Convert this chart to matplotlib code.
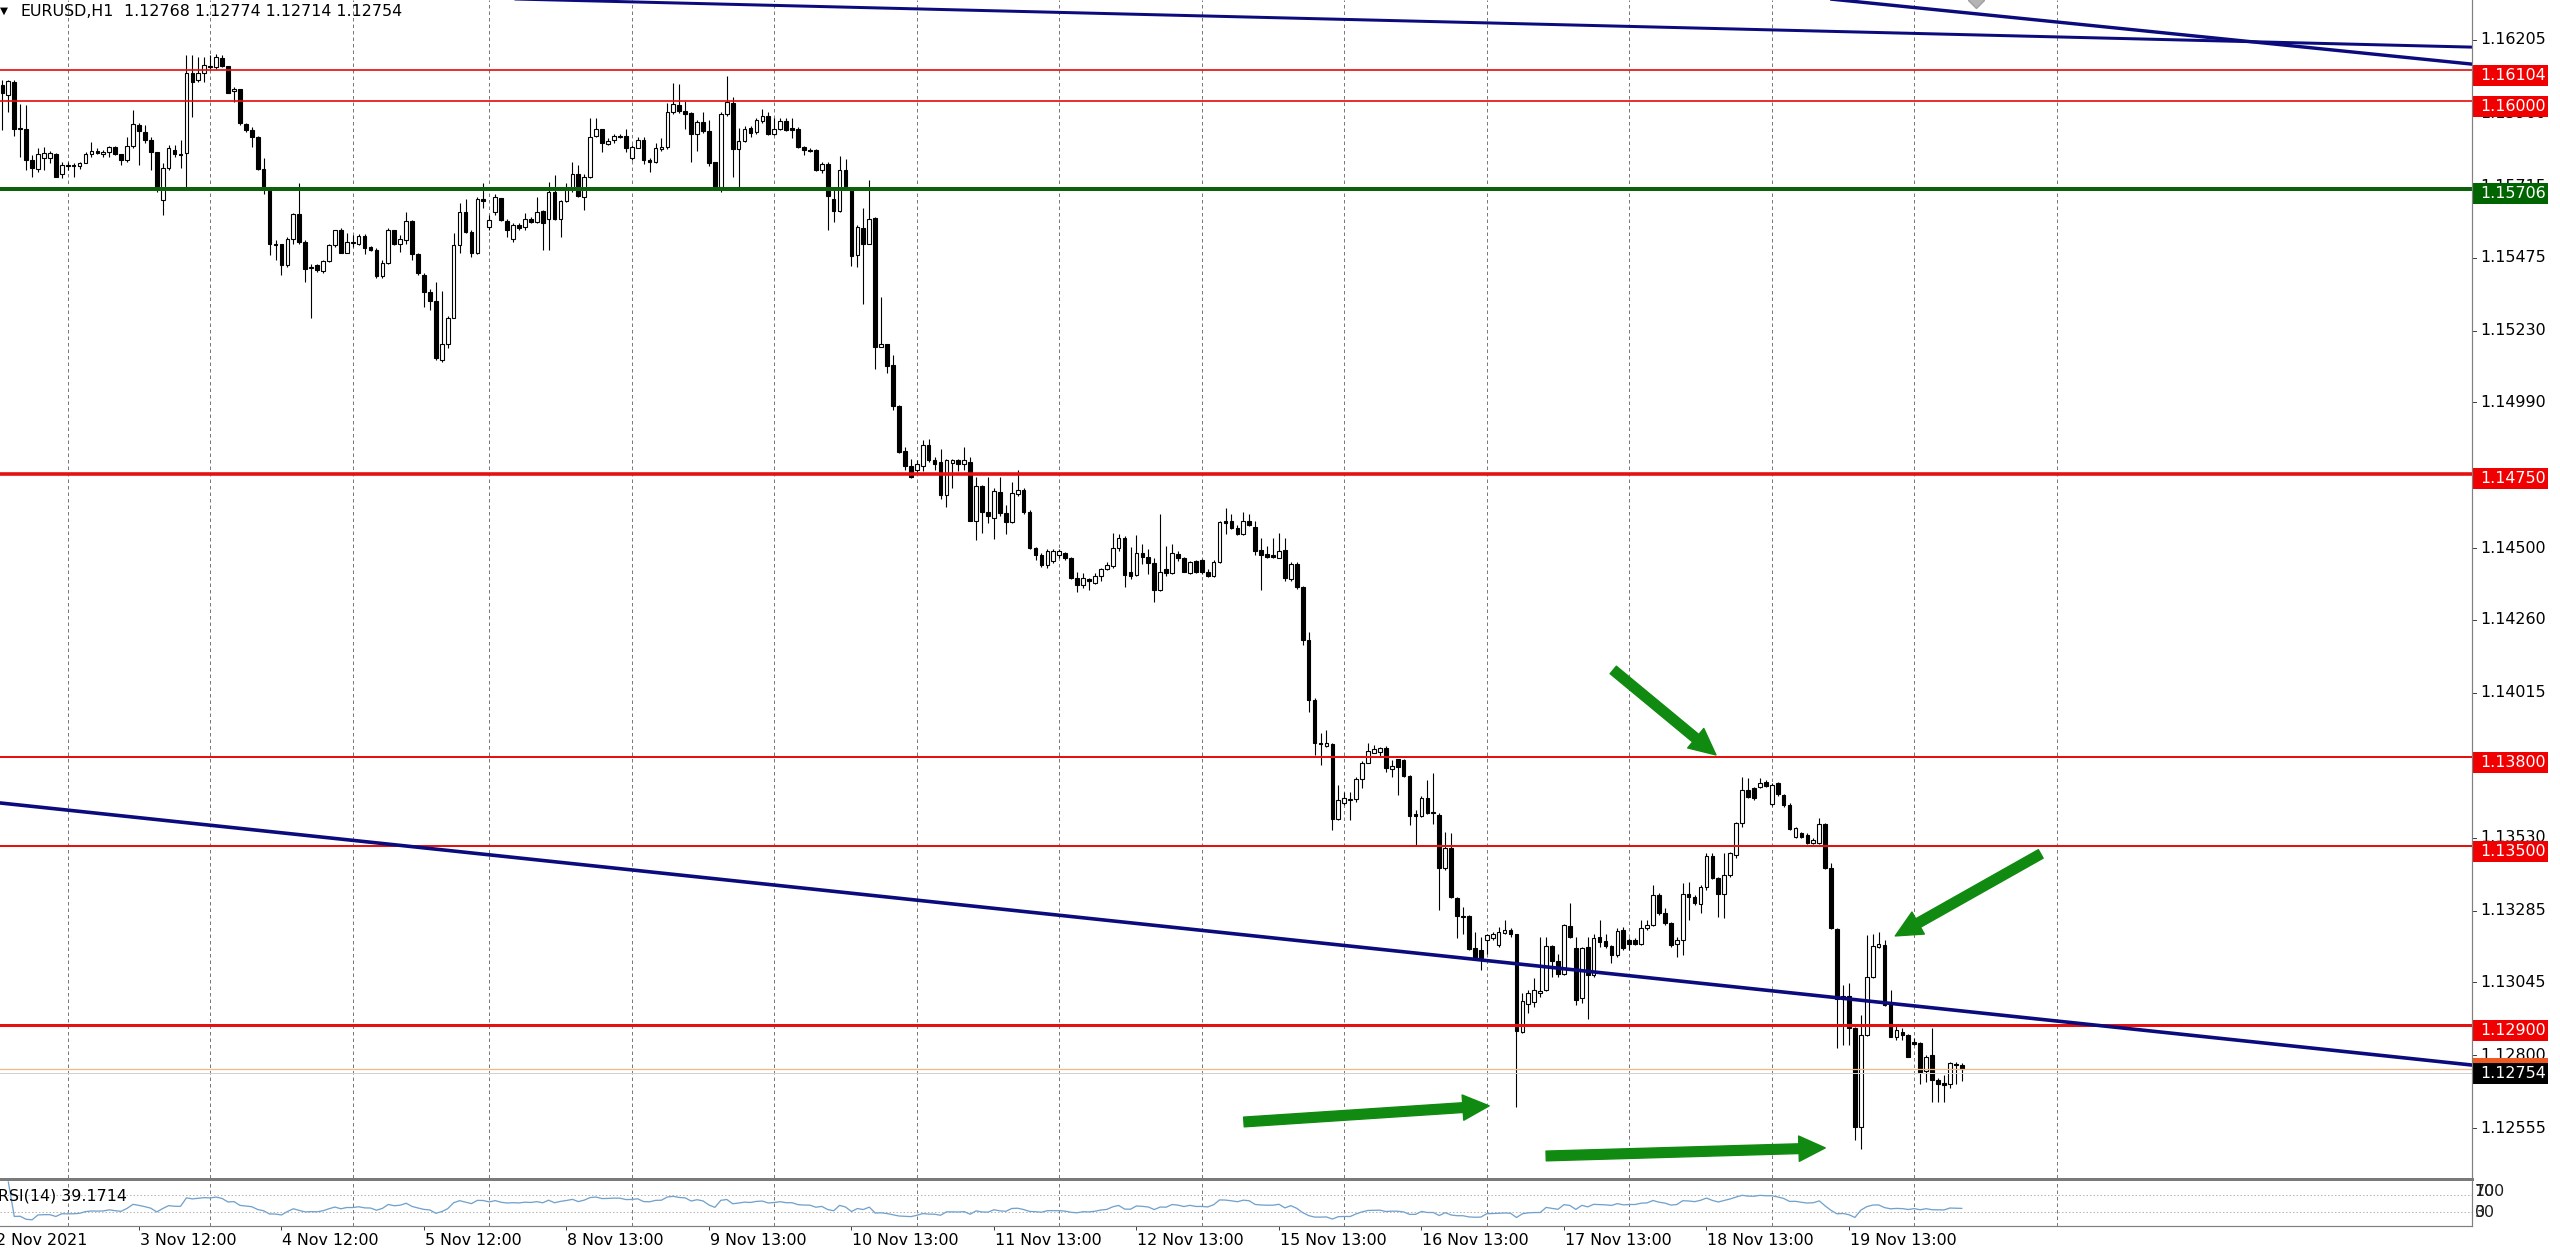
import numpy as np
import matplotlib
matplotlib.use("Agg")
import matplotlib.pyplot as plt
from matplotlib.patches import Rectangle
from matplotlib.lines import Line2D

plt.rcParams['font.family'] = ['DejaVu Sans']

# ---------------- data ----------------
symbol = "EURUSD,H1"
header_ohlc = "1.12768 1.12774 1.12714 1.12754"
rsi_label = "RSI(14) 39.1714"

opens = [
    1.16054, 1.16020, 1.16065, 1.15910, 1.15906, 1.15802, 1.15771, 1.15808, 1.15808, 1.15824,
    1.15757, 1.15786, 1.15786, 1.15782, 1.15793, 1.15821, 1.15833, 1.15824, 1.15830, 1.15847,
    1.15822, 1.15804, 1.15849, 1.15919, 1.15897, 1.15869, 1.15830, 1.15668, 1.15774, 1.15835,
    1.15824, 1.15827, 1.16095, 1.16070, 1.16095, 1.16117, 1.16113, 1.16146, 1.16117, 1.16033,
    1.16041, 1.15923, 1.15903, 1.15880, 1.15771, 1.15704, 1.15520, 1.15520, 1.15450, 1.15536,
    1.15620, 1.15527, 1.15440, 1.15450, 1.15431, 1.15463, 1.15517, 1.15567, 1.15491, 1.15529,
    1.15522, 1.15548, 1.15509, 1.15500, 1.15413, 1.15458, 1.15569, 1.15522, 1.15534, 1.15599,
    1.15487, 1.15416, 1.15360, 1.15330, 1.15131, 1.15185, 1.15274, 1.15517, 1.15629, 1.15562,
    1.15491, 1.15670, 1.15576, 1.15629, 1.15676, 1.15599, 1.15536, 1.15584, 1.15578, 1.15603,
    1.15595, 1.15632, 1.15603, 1.15696, 1.15603, 1.15666, 1.15704, 1.15755, 1.15679, 1.15746,
    1.15882, 1.15905, 1.15856, 1.15869, 1.15882, 1.15882, 1.15808, 1.15844, 1.15871, 1.15802,
    1.15796, 1.15839, 1.15845, 1.15963, 1.15988, 1.15966, 1.15959, 1.15888, 1.15929, 1.15901,
    1.15795, 1.15711, 1.15957, 1.15994, 1.15839, 1.15867, 1.15909, 1.15897, 1.15934, 1.15950,
    1.15888, 1.15907, 1.15934, 1.15909, 1.15907, 1.15847, 1.15837, 1.15835, 1.15768, 1.15789,
    1.15673, 1.15631, 1.15770, 1.15708, 1.15485, 1.15574, 1.15522, 1.15609, 1.15176, 1.15184,
    1.15114, 1.14978, 1.14826, 1.14776, 1.14762, 1.14776, 1.14845, 1.14795, 1.14789, 1.14680,
    1.14786, 1.14795, 1.14783, 1.14789, 1.14593, 1.14708, 1.14621, 1.14603, 1.14690, 1.14618,
    1.14588, 1.14683, 1.14696, 1.14621, 1.14501, 1.14478, 1.14444, 1.14456, 1.14476, 1.14485,
    1.14468, 1.14401, 1.14377, 1.14398, 1.14382, 1.14406, 1.14431, 1.14441, 1.14501, 1.14534,
    1.14419, 1.14410, 1.14485, 1.14472, 1.14451, 1.14360, 1.14431, 1.14416, 1.14481, 1.14466,
    1.14416, 1.14456, 1.14460, 1.14422, 1.14406, 1.14453, 1.14591, 1.14591, 1.14568, 1.14547,
    1.14591, 1.14572, 1.14493, 1.14481, 1.14478, 1.14468, 1.14493, 1.14398, 1.14447, 1.14369,
    1.14193, 1.13991, 1.13848, 1.13837, 1.13844, 1.13591, 1.13645, 1.13656, 1.13658, 1.13725,
    1.13781, 1.13814, 1.13818, 1.13831, 1.13759, 1.13792, 1.13790, 1.13736, 1.13608, 1.13602,
    1.13664, 1.13617, 1.13605, 1.13427, 1.13494, 1.13326, 1.13267, 1.13267, 1.13158, 1.13153,
    1.13186, 1.13192, 1.13169, 1.13211, 1.13220, 1.13206, 1.12879, 1.12971, 1.12979, 1.13009,
    1.13018, 1.13166, 1.13117, 1.13072, 1.13233, 1.13158, 1.12991, 1.13164, 1.13069, 1.13195,
    1.13184, 1.13166, 1.13136, 1.13220, 1.13186, 1.13188, 1.13173, 1.13225, 1.13236, 1.13337,
    1.13276, 1.13244, 1.13173, 1.13186, 1.13340, 1.13331, 1.13307, 1.13363, 1.13468, 1.13393,
    1.13340, 1.13404, 1.13471, 1.13580, 1.13691, 1.13695, 1.13700, 1.13717, 1.13642, 1.13712,
    1.13672, 1.13639, 1.13533, 1.13544, 1.13538, 1.13510, 1.13513, 1.13577, 1.13427, 1.13222,
    1.12987, 1.12998, 1.12890, 1.12558, 1.12867, 1.13063, 1.13164, 1.13169, 1.12974, 1.12862,
    1.12879, 1.12867, 1.12845, 1.12842, 1.12748, 1.12800, 1.12717, 1.12708, 1.12705, 1.12772,
    1.12768,
]
highs = [
    1.16070, 1.16070, 1.16070, 1.15990, 1.15986, 1.15819, 1.15844, 1.15847, 1.15833, 1.15827,
    1.15794, 1.15796, 1.15793, 1.15794, 1.15830, 1.15863, 1.15841, 1.15835, 1.15850, 1.15849,
    1.15824, 1.15880, 1.15970, 1.15925, 1.15919, 1.15880, 1.15830, 1.15791, 1.15852, 1.15852,
    1.15869, 1.16154, 1.16154, 1.16149, 1.16149, 1.16154, 1.16158, 1.16154, 1.16117, 1.16048,
    1.16041, 1.15927, 1.15914, 1.15882, 1.15808, 1.15713, 1.15534, 1.15522, 1.15545, 1.15625,
    1.15724, 1.15534, 1.15455, 1.15455, 1.15467, 1.15522, 1.15569, 1.15573, 1.15556, 1.15550,
    1.15554, 1.15554, 1.15513, 1.15506, 1.15467, 1.15573, 1.15569, 1.15550, 1.15629, 1.15601,
    1.15489, 1.15422, 1.15371, 1.15394, 1.15362, 1.15279, 1.15556, 1.15659, 1.15673, 1.15569,
    1.15677, 1.15726, 1.15618, 1.15690, 1.15676, 1.15606, 1.15590, 1.15590, 1.15625, 1.15610,
    1.15679, 1.15634, 1.15729, 1.15752, 1.15668, 1.15726, 1.15796, 1.15785, 1.15757, 1.15942,
    1.15942, 1.15905, 1.15875, 1.15891, 1.15889, 1.15905, 1.15852, 1.15878, 1.15878, 1.15808,
    1.15858, 1.15876, 1.15994, 1.16062, 1.16056, 1.16000, 1.15963, 1.15938, 1.15963, 1.15938,
    1.15795, 1.15963, 1.16083, 1.16012, 1.15909, 1.15917, 1.15917, 1.15944, 1.15975, 1.15963,
    1.15944, 1.15942, 1.15942, 1.15944, 1.15913, 1.15851, 1.15842, 1.15839, 1.15795, 1.15795,
    1.15702, 1.15817, 1.15805, 1.15711, 1.15584, 1.15640, 1.15735, 1.15611, 1.15342, 1.15186,
    1.15147, 1.14981, 1.14839, 1.14801, 1.14795, 1.14863, 1.14866, 1.14807, 1.14832, 1.14801,
    1.14801, 1.14801, 1.14839, 1.14807, 1.14739, 1.14714, 1.14739, 1.14702, 1.14739, 1.14646,
    1.14724, 1.14764, 1.14702, 1.14627, 1.14506, 1.14485, 1.14497, 1.14497, 1.14497, 1.14488,
    1.14472, 1.14422, 1.14416, 1.14401, 1.14416, 1.14435, 1.14453, 1.14553, 1.14547, 1.14540,
    1.14503, 1.14543, 1.14516, 1.14497, 1.14466, 1.14615, 1.14509, 1.14516, 1.14491, 1.14472,
    1.14456, 1.14460, 1.14463, 1.14429, 1.14460, 1.14593, 1.14634, 1.14615, 1.14578, 1.14621,
    1.14615, 1.14593, 1.14534, 1.14509, 1.14534, 1.14553, 1.14534, 1.14453, 1.14453, 1.14372,
    1.14219, 1.13998, 1.13879, 1.13890, 1.13848, 1.13706, 1.13684, 1.13684, 1.13732, 1.13788,
    1.13848, 1.13840, 1.13835, 1.13837, 1.13790, 1.13795, 1.13792, 1.13740, 1.13622, 1.13669,
    1.13723, 1.13745, 1.13611, 1.13549, 1.13544, 1.13331, 1.13298, 1.13270, 1.13214, 1.13197,
    1.13208, 1.13214, 1.13231, 1.13255, 1.13225, 1.13208, 1.13007, 1.13018, 1.13058, 1.13197,
    1.13197, 1.13169, 1.13141, 1.13240, 1.13309, 1.13197, 1.13164, 1.13197, 1.13208, 1.13253,
    1.13208, 1.13169, 1.13225, 1.13231, 1.13192, 1.13192, 1.13253, 1.13255, 1.13371, 1.13343,
    1.13292, 1.13248, 1.13197, 1.13376, 1.13382, 1.13337, 1.13371, 1.13477, 1.13477, 1.13399,
    1.13477, 1.13482, 1.13583, 1.13734, 1.13728, 1.13700, 1.13728, 1.13723, 1.13712, 1.13717,
    1.13676, 1.13645, 1.13564, 1.13549, 1.13544, 1.13527, 1.13594, 1.13580, 1.13443, 1.13225,
    1.13035, 1.13041, 1.12895, 1.12935, 1.13203, 1.13208, 1.13214, 1.13186, 1.13018, 1.12901,
    1.12890, 1.12871, 1.12856, 1.12845, 1.12800, 1.12890, 1.12722, 1.12733, 1.12778, 1.12778,
    1.12774,
]
lows = [
    1.15903, 1.15964, 1.15882, 1.15813, 1.15768, 1.15746, 1.15763, 1.15768, 1.15791, 1.15744,
    1.15741, 1.15768, 1.15746, 1.15771, 1.15791, 1.15812, 1.15822, 1.15813, 1.15812, 1.15819,
    1.15785, 1.15796, 1.15841, 1.15785, 1.15858, 1.15768, 1.15696, 1.15618, 1.15768, 1.15813,
    1.15774, 1.15713, 1.15947, 1.16065, 1.16065, 1.16109, 1.16106, 1.16113, 1.16026, 1.15998,
    1.15919, 1.15897, 1.15847, 1.15768, 1.15690, 1.15483, 1.15467, 1.15416, 1.15442, 1.15522,
    1.15522, 1.15392, 1.15273, 1.15427, 1.15422, 1.15461, 1.15511, 1.15489, 1.15489, 1.15511,
    1.15517, 1.15487, 1.15498, 1.15408, 1.15405, 1.15455, 1.15517, 1.15495, 1.15522, 1.15467,
    1.15416, 1.15310, 1.15299, 1.15131, 1.15126, 1.15171, 1.15271, 1.15489, 1.15556, 1.15478,
    1.15487, 1.15640, 1.15567, 1.15618, 1.15597, 1.15545, 1.15528, 1.15567, 1.15567, 1.15590,
    1.15590, 1.15500, 1.15500, 1.15601, 1.15545, 1.15662, 1.15696, 1.15679, 1.15634, 1.15741,
    1.15880, 1.15830, 1.15852, 1.15858, 1.15875, 1.15830, 1.15802, 1.15841, 1.15789, 1.15763,
    1.15791, 1.15832, 1.15839, 1.15957, 1.15959, 1.15907, 1.15795, 1.15832, 1.15894, 1.15783,
    1.15708, 1.15696, 1.15950, 1.15745, 1.15711, 1.15863, 1.15880, 1.15888, 1.15926, 1.15885,
    1.15885, 1.15904, 1.15901, 1.15876, 1.15842, 1.15820, 1.15830, 1.15764, 1.15758, 1.15569,
    1.15594, 1.15627, 1.15706, 1.15447, 1.15445, 1.15321, 1.15519, 1.15102, 1.15174, 1.15087,
    1.14963, 1.14820, 1.14764, 1.14737, 1.14752, 1.14758, 1.14789, 1.14764, 1.14667, 1.14640,
    1.14702, 1.14758, 1.14764, 1.14591, 1.14528, 1.14553, 1.14584, 1.14530, 1.14609, 1.14547,
    1.14584, 1.14677, 1.14615, 1.14497, 1.14460, 1.14439, 1.14435, 1.14451, 1.14468, 1.14460,
    1.14398, 1.14354, 1.14366, 1.14360, 1.14379, 1.14391, 1.14426, 1.14435, 1.14491, 1.14369,
    1.14398, 1.14406, 1.14447, 1.14414, 1.14319, 1.14357, 1.14406, 1.14414, 1.14456, 1.14419,
    1.14414, 1.14416, 1.14414, 1.14404, 1.14404, 1.14451, 1.14547, 1.14565, 1.14543, 1.14543,
    1.14575, 1.14476, 1.14360, 1.14468, 1.14468, 1.14466, 1.14391, 1.14391, 1.14364, 1.14176,
    1.13951, 1.13807, 1.13773, 1.13835, 1.13555, 1.13589, 1.13639, 1.13589, 1.13650, 1.13695,
    1.13779, 1.13812, 1.13801, 1.13751, 1.13734, 1.13672, 1.13734, 1.13572, 1.13501, 1.13600,
    1.13609, 1.13577, 1.13287, 1.13421, 1.13326, 1.13192, 1.13208, 1.13153, 1.13119, 1.13086,
    1.13141, 1.13186, 1.13164, 1.13208, 1.13197, 1.12627, 1.12873, 1.12940, 1.12963, 1.12996,
    1.13016, 1.13063, 1.13063, 1.13069, 1.13192, 1.12968, 1.12974, 1.12923, 1.13063, 1.13164,
    1.13158, 1.13108, 1.13130, 1.13153, 1.13153, 1.13169, 1.13169, 1.13220, 1.13233, 1.13270,
    1.13236, 1.13164, 1.13130, 1.13136, 1.13253, 1.13304, 1.13276, 1.13354, 1.13390, 1.13264,
    1.13259, 1.13399, 1.13460, 1.13566, 1.13661, 1.13656, 1.13695, 1.13698, 1.13636, 1.13669,
    1.13633, 1.13555, 1.13527, 1.13530, 1.13508, 1.13508, 1.13508, 1.13423, 1.13222, 1.12823,
    1.12834, 1.12834, 1.12515, 1.12487, 1.12864, 1.13058, 1.13158, 1.12965, 1.12860, 1.12851,
    1.12851, 1.12793, 1.12834, 1.12705, 1.12711, 1.12644, 1.12644, 1.12644, 1.12689, 1.12705,
    1.12714,
]
closes = [
    1.16026, 1.16068, 1.15905, 1.15906, 1.15802, 1.15774, 1.15824, 1.15827, 1.15827, 1.15746,
    1.15787, 1.15782, 1.15783, 1.15791, 1.15821, 1.15833, 1.15827, 1.15830, 1.15847, 1.15822,
    1.15804, 1.15849, 1.15922, 1.15899, 1.15869, 1.15830, 1.15707, 1.15774, 1.15841, 1.15822,
    1.15820, 1.16095, 1.16065, 1.16093, 1.16121, 1.16113, 1.16149, 1.16117, 1.16028, 1.16041,
    1.15927, 1.15903, 1.15880, 1.15771, 1.15713, 1.15520, 1.15518, 1.15450, 1.15538, 1.15620,
    1.15528, 1.15436, 1.15444, 1.15435, 1.15463, 1.15517, 1.15567, 1.15491, 1.15528, 1.15525,
    1.15548, 1.15506, 1.15500, 1.15414, 1.15458, 1.15569, 1.15522, 1.15539, 1.15599, 1.15487,
    1.15422, 1.15358, 1.15330, 1.15137, 1.15185, 1.15274, 1.15517, 1.15629, 1.15562, 1.15491,
    1.15673, 1.15666, 1.15601, 1.15677, 1.15601, 1.15569, 1.15584, 1.15573, 1.15606, 1.15595,
    1.15629, 1.15590, 1.15696, 1.15606, 1.15664, 1.15704, 1.15755, 1.15681, 1.15746, 1.15880,
    1.15905, 1.15858, 1.15867, 1.15882, 1.15880, 1.15844, 1.15847, 1.15871, 1.15802, 1.15796,
    1.15841, 1.15847, 1.15963, 1.15990, 1.15966, 1.15957, 1.15888, 1.15929, 1.15901, 1.15791,
    1.15711, 1.15957, 1.15996, 1.15839, 1.15867, 1.15907, 1.15894, 1.15938, 1.15950, 1.15888,
    1.15907, 1.15934, 1.15904, 1.15904, 1.15847, 1.15835, 1.15832, 1.15770, 1.15789, 1.15681,
    1.15631, 1.15770, 1.15708, 1.15482, 1.15578, 1.15522, 1.15606, 1.15176, 1.15186, 1.15112,
    1.14978, 1.14824, 1.14776, 1.14739, 1.14783, 1.14845, 1.14795, 1.14783, 1.14680, 1.14795,
    1.14795, 1.14783, 1.14795, 1.14593, 1.14708, 1.14621, 1.14609, 1.14692, 1.14618, 1.14588,
    1.14687, 1.14696, 1.14621, 1.14501, 1.14478, 1.14444, 1.14491, 1.14491, 1.14491, 1.14468,
    1.14401, 1.14377, 1.14401, 1.14391, 1.14406, 1.14431, 1.14444, 1.14501, 1.14534, 1.14410,
    1.14406, 1.14485, 1.14472, 1.14451, 1.14360, 1.14422, 1.14416, 1.14485, 1.14466, 1.14422,
    1.14453, 1.14419, 1.14419, 1.14406, 1.14453, 1.14588, 1.14584, 1.14568, 1.14547, 1.14591,
    1.14578, 1.14491, 1.14478, 1.14472, 1.14472, 1.14491, 1.14401, 1.14447, 1.14369, 1.14193,
    1.13991, 1.13847, 1.13844, 1.13848, 1.13591, 1.13656, 1.13661, 1.13659, 1.13725, 1.13781,
    1.13821, 1.13826, 1.13829, 1.13762, 1.13770, 1.13767, 1.13736, 1.13602, 1.13602, 1.13664,
    1.13613, 1.13611, 1.13427, 1.13494, 1.13331, 1.13267, 1.13264, 1.13155, 1.13121, 1.13125,
    1.13203, 1.13208, 1.13214, 1.13220, 1.13208, 1.12882, 1.12983, 1.13009, 1.13018, 1.13016,
    1.13166, 1.13117, 1.13072, 1.13236, 1.13197, 1.12985, 1.13158, 1.13069, 1.13192, 1.13181,
    1.13166, 1.13136, 1.13217, 1.13158, 1.13173, 1.13173, 1.13225, 1.13236, 1.13337, 1.13276,
    1.13244, 1.13169, 1.13186, 1.13340, 1.13331, 1.13309, 1.13363, 1.13468, 1.13393, 1.13340,
    1.13404, 1.13477, 1.13580, 1.13689, 1.13665, 1.13661, 1.13714, 1.13703, 1.13706, 1.13676,
    1.13639, 1.13557, 1.13561, 1.13533, 1.13513, 1.13522, 1.13577, 1.13427, 1.13225, 1.12987,
    1.12998, 1.12890, 1.12558, 1.12867, 1.13063, 1.13166, 1.13173, 1.12968, 1.12862, 1.12884,
    1.12867, 1.12795, 1.12837, 1.12745, 1.12795, 1.12717, 1.12705, 1.12700, 1.12775, 1.12767,
    1.12754,
]

date_labels = ["3 Nov 12:00", "4 Nov 12:00", "5 Nov 12:00", "8 Nov 13:00", "9 Nov 13:00",
               "10 Nov 13:00", "11 Nov 13:00", "12 Nov 13:00", "15 Nov 13:00", "16 Nov 13:00",
               "17 Nov 13:00", "18 Nov 13:00", "19 Nov 13:00"]
date_label_bars = [23, 47, 71, 95, 119, 143, 167, 191, 215, 239, 263, 287, 311]
first_label = "2 Nov 2021"
day_sep_bars = [11, 35, 59, 82, 106, 130, 154, 178, 202, 226, 250, 274, 298, 322, 346]

price_ticks = [1.16205, 1.15960, 1.15715, 1.15475, 1.15230, 1.14990, 1.14745, 1.14500,
               1.14260, 1.14015, 1.13770, 1.13530, 1.13285, 1.13045, 1.12800, 1.12555]
red_levels = [1.16104, 1.16000, 1.14750, 1.13800, 1.13500, 1.12900]
red_widths_px = [1.7, 1.7, 3.6, 2.0, 2.0, 3.0]
green_level = 1.15706
current_price = 1.12754

# trend lines: (bar, price) anchor pairs
trend_lower = [(-0.4, 1.13646), (415.9, 1.12767)]
trend_upper_a = [(93.1, 1.16339), (415.9, 1.16181)]
trend_upper_b = [(309.5, 1.16339), (415.9, 1.16124)]

# arrows: (tail bar, tail price) -> (tip bar, tip price)
arrows = [
    ((271.3, 1.14092), (288.6, 1.13807)),
    ((343.3, 1.13475), (318.8, 1.13200)),
    ((209.1, 1.12576), (250.4, 1.12630)),
    ((260.0, 1.12462), (307.0, 1.12489)),
]
# small gray object cut by the top edge
top_marker = (332.4, 1.16339)

# ---------------- layout ----------------
W, H, DPI = 2560, 1251, 100
PT = 72.0 / DPI          # points per pixel
PLOT_R = 2472
MAIN_BOT = 1178
RSI_TOP, RSI_BOT = 1180, 1226
BAR_PX = 5.9375
BAR0_PX = 2.4
PX_PER_PRICE = 29816.0
Y_TOP = 1.16339
Y_BOT = Y_TOP - MAIN_BOT / PX_PER_PRICE
XLIM = (-BAR0_PX / BAR_PX, (PLOT_R - BAR0_PX) / BAR_PX)
FS = 11.4

RED = '#e61010'
RED_BOX = '#f00000'
GREEN_LINE = '#0b620b'
GREEN_BOX = '#006400'
ARROW_GREEN = '#108a10'
NAVY = '#0b0b7e'
GRID = '#7a7a7a'

fig = plt.figure(figsize=(W / DPI, H / DPI), dpi=DPI)
fig.patch.set_facecolor('white')


def fx(px):
    return px / W


def fy(py):
    return 1 - py / H


ax = fig.add_axes([0, fy(MAIN_BOT), fx(PLOT_R), MAIN_BOT / H])
rax = fig.add_axes([0, fy(RSI_BOT), fx(PLOT_R), (RSI_BOT - RSI_TOP) / H])
pax = fig.add_axes([fx(PLOT_R), fy(MAIN_BOT), fx(W - PLOT_R), MAIN_BOT / H])
rpax = fig.add_axes([fx(PLOT_R), fy(RSI_BOT), fx(W - PLOT_R), (RSI_BOT - RSI_TOP) / H])
dax = fig.add_axes([0, 0, fx(PLOT_R), (H - RSI_BOT) / H])

for a in (ax, rax, pax, rpax, dax):
    a.set_axis_off()

ax.set_xlim(*XLIM)
ax.set_ylim(Y_BOT, Y_TOP)
rax.set_xlim(*XLIM)
rax.set_ylim(-1.6, 104.6)
pax.set_xlim(0, W - PLOT_R)
pax.set_ylim(Y_BOT, Y_TOP)
rpax.set_xlim(0, W - PLOT_R)
rpax.set_ylim(-1.6, 104.6)
dax.set_xlim(*XLIM)
dax.set_ylim(H - RSI_BOT, 0)

n = min(len(opens), len(highs), len(lows), len(closes))
o = np.array(opens[:n])
h = np.array(highs[:n])
l = np.array(lows[:n])
c = np.array(closes[:n])
x = np.arange(n)

# grid (day separators)
for b in day_sep_bars:
    for a in (ax, rax):
        a.axvline(b, color=GRID, lw=1 * PT, ls=(0, (3.5, 3)), zorder=1)

# candles
ax.vlines(x, l, h, colors='black', linewidth=1.1 * PT, zorder=2)
bottom = np.minimum(o, c)
height = np.maximum(np.abs(c - o), 1e-6)
face = ['white' if cc >= oo else 'black' for oo, cc in zip(o, c)]
ax.bar(x, height, bottom=bottom, width=0.62, color=face, edgecolor='black',
       linewidth=1.1 * PT, zorder=3)

# horizontal levels
for lev, wpx in zip(red_levels, red_widths_px):
    ax.axhline(lev, color=RED, lw=wpx * PT, zorder=5)
ax.axhline(green_level, color=GREEN_LINE, lw=4.0 * PT, zorder=5)
ax.axhline(current_price, color='#f2b888', lw=1.3 * PT, zorder=4)
ax.axhline(current_price - 4 / PX_PER_PRICE, color='#d0d0d0', lw=1.0 * PT, zorder=4)


def draw_trend(anchors, lw):
    (x1, y1), (x2, y2) = anchors
    xs = np.array([XLIM[0] - 5, XLIM[1] + 5])
    ys = y1 + (y2 - y1) / (x2 - x1) * (xs - x1)
    ax.plot(xs, ys, color=NAVY, lw=lw * PT, zorder=6, solid_capstyle='butt')


draw_trend(trend_lower, 3.6)
draw_trend(trend_upper_a, 3.0)
draw_trend(trend_upper_b, 3.4)

ax.plot([top_marker[0]], [top_marker[1]], marker='D', ms=11 * PT, color='#b4b4b4',
        mec='#a0a0a0', zorder=6, clip_on=True)

# arrows
for (tail, tip) in arrows:
    ax.annotate('', xy=tip, xytext=tail,
                arrowprops=dict(arrowstyle='simple,head_length=1.35,head_width=1.3,tail_width=0.5',
                                mutation_scale=14, color=ARROW_GREEN, shrinkA=0, shrinkB=0),
                zorder=7, annotation_clip=False)

# RSI(14), Wilder smoothing, from closes
delta = np.diff(c)
gain = np.clip(delta, 0, None)
loss = np.clip(-delta, 0, None)
rsi = np.full(n, np.nan)
ag = al = 0.0
for i in range(1, n):
    if i <= 14:
        ag = gain[:i].mean()
        al = loss[:i].mean()
    else:
        ag = (ag * 13 + gain[i - 1]) / 14
        al = (al * 13 + loss[i - 1]) / 14
    rsi[i] = 100.0 if al == 0 else 100 - 100 / (1 + ag / al)
rax.axhline(70, color='#b8b8b8', lw=1 * PT, ls=(0, (1.5, 2)), zorder=1)
rax.axhline(30, color='#b8b8b8', lw=1 * PT, ls=(0, (1.5, 2)), zorder=1)
rax.plot(x, rsi, color='#72a2cc', lw=1.3 * PT, zorder=3)

# price axis
for p in price_ticks:
    pax.plot([0, 4], [p, p], color='#404040', lw=1 * PT, zorder=1)
    pax.text(8, p, f"{p:.5f}", ha='left', va='center', fontsize=FS, color='black', zorder=1)


def level_box(p, fc, txt_color='white', label=None):
    cy = p - 5 / PX_PER_PRICE
    pax.add_patch(Rectangle((0.7, cy - 10.5 / PX_PER_PRICE), 75.6, 21 / PX_PER_PRICE,
                            facecolor=fc, edgecolor='none', zorder=3))
    pax.text(8, cy, label if label else f"{p:.5f}", ha='left', va='center',
             fontsize=FS, color=txt_color, zorder=4)


for lev in red_levels:
    level_box(lev, RED_BOX)
level_box(green_level, GREEN_BOX)
pax.add_patch(Rectangle((0.7, current_price + 6 / PX_PER_PRICE), 75.6, 5 / PX_PER_PRICE,
                        facecolor='#f05a22', edgecolor='none', zorder=3))
level_box(current_price, 'black')

# RSI axis labels (overlapping like the original)
for v, t in [(77, "100"), (77, "70"), (29, "30"), (29, "0")]:
    rpax.text(2.5, v, t, ha='left', va='center', fontsize=FS, color='#202020')
rax.text(XLIM[0] - 2 / BAR_PX, 68, rsi_label, ha='left', va='center', fontsize=FS,
         color='black', zorder=5, clip_on=False)

# borders
fig.add_artist(Line2D([fx(PLOT_R)] * 2, [fy(0), fy(RSI_BOT)], color='#808080', lw=1.2 * PT))
fig.add_artist(Line2D([0, fx(PLOT_R)], [fy(1179), fy(1179)], color='#7a7a7a', lw=3 * PT))
fig.add_artist(Line2D([0, fx(PLOT_R)], [fy(RSI_BOT), fy(RSI_BOT)], color='#808080', lw=1.2 * PT))

# time axis
dax.vlines(date_label_bars, 0, 4, colors='#404040', lw=1 * PT)
for b, t in zip(date_label_bars, date_labels):
    dax.text(b + 1 / BAR_PX, 14.7, t, ha='left', va='center', fontsize=FS, color='black')
dax.text(XLIM[0] - 4 / BAR_PX, 14.7, first_label, ha='left', va='center', fontsize=FS,
         color='black', clip_on=False)

# header
fig.text(fx(0), fy(10.5), "\u25BC", ha='left', va='center', fontsize=7.5, color='black')
fig.text(fx(20), fy(11.7), symbol, ha='left', va='center', fontsize=FS, color='black')
fig.text(fx(124), fy(11.7), header_ohlc, ha='left', va='center', fontsize=FS, color='black')

fig.savefig("out.png", dpi=DPI, facecolor='white')
